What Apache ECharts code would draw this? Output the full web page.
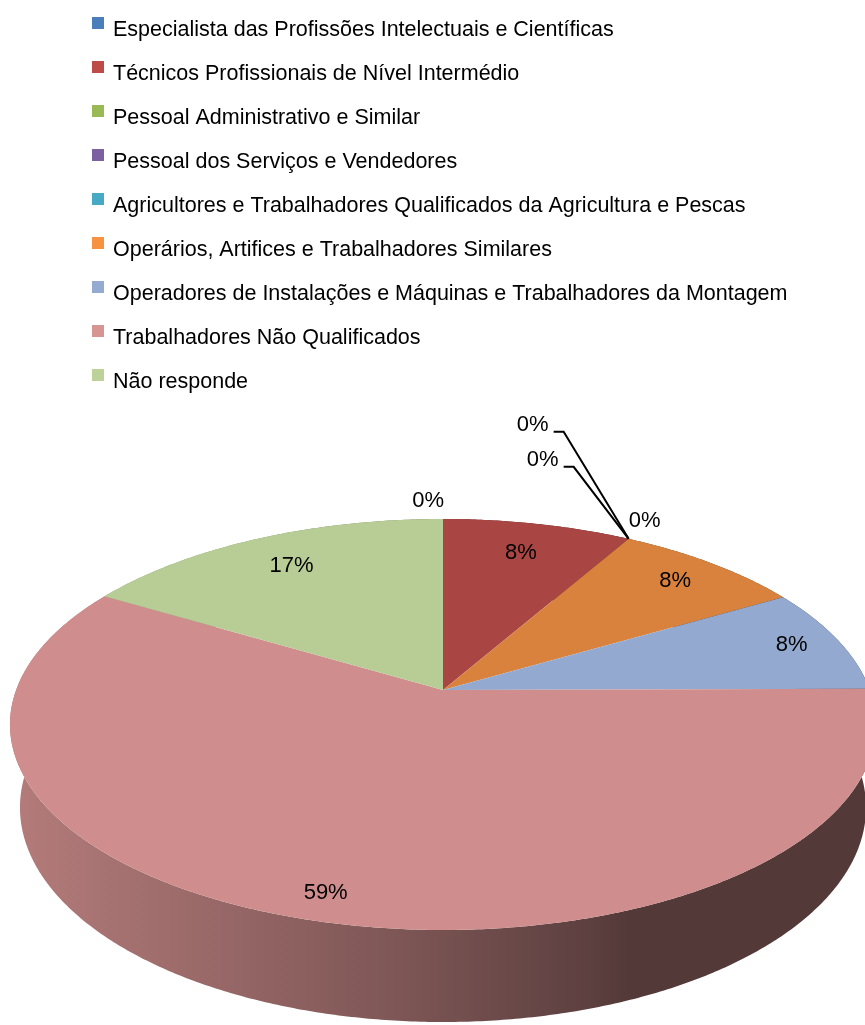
<!DOCTYPE html>
<html><head><meta charset="utf-8">
<script src="https://cdn.jsdelivr.net/npm/echarts@6/dist/echarts.min.js"></script>
<style>html,body{margin:0;padding:0;background:#fff}#c{width:865px;height:1025px}</style>
</head><body><div id="c"></div>
<script>
// ---- data ----
const categories = [
  'Especialista das Profissões Intelectuais e Científicas',
  'Técnicos Profissionais de Nível Intermédio',
  'Pessoal Administrativo e Similar',
  'Pessoal dos Serviços e Vendedores',
  'Agricultores e Trabalhadores Qualificados da Agricultura e Pescas',
  'Operários, Artifices e Trabalhadores Similares',
  'Operadores de Instalações e Máquinas e Trabalhadores da Montagem',
  'Trabalhadores Não Qualificados',
  'Não responde'
];
const values = [0, 8.3, 0, 0, 0, 8.3, 8.3, 58.6, 16.5];

// ---- styles ----
const legendColors = ['#4A7EBB','#BE4B48','#98B954','#7D60A0','#46AAC5','#F69240','#94AAD0','#D69593','#BCD298'];
const faceColors   = ['#4F81BD','#A94543','#9BBB59','#8064A2','#4BACC6','#D9823E','#93A9CF','#CF8E8D','#B8CD95'];
const labelRadius  = [1, 0.8, 1, 1, 1, 0.85, 0.88, 0.9, 0.8];
const FONT = 'Liberation Sans, Arial, sans-serif';

// ---- perspective geometry of the 3D pie ----
const G = {cx:443, cy:690, A:426.9, B:199.7, k:0.1679, delta:0.023, C:84.2};
function proj(phiDeg, f, bottom){
  const p = phiDeg*Math.PI/180;
  const u = f*Math.sin(p), v = -f*Math.cos(p);
  const d = 1 - G.k*v + (bottom ? G.delta : 0);
  return [G.cx + G.A*u/d, G.cy + (G.B*v + (bottom ? G.C : 0))/d];
}
function arc(a0, a1, bottom){
  const n = Math.max(2, Math.ceil((a1-a0)/0.5));
  const pts = [];
  for (let s=0; s<=n; s++) pts.push(proj(a0 + (a1-a0)*s/n, 1, bottom));
  return pts;
}
function shade(hex, m){
  const n = parseInt(hex.slice(1),16);
  const r=Math.round(((n>>16)&255)*m), g=Math.round(((n>>8)&255)*m), b=Math.round((n&255)*m);
  return 'rgb('+r+','+g+','+b+')';
}

const total = values.reduce((a,b)=>a+b,0);
const starts=[], ends=[]; let acc=0;
values.forEach(v=>{ starts.push(acc/total*360); acc+=v; ends.push(acc/total*360); });

// zero-value label stacking index within clusters at the same angle
const zeroRank = values.map((v,i)=>{
  if (v>0) return -1;
  let r=0; for (let j=0;j<i;j++) if (values[j]===0 && Math.abs(starts[j]-starts[i])<1e-6) r++;
  return r;
});

const sliceSeries = categories.map((name,i)=>({
  type:'custom', name, coordinateSystem:'none', z:2, silent:true,
  itemStyle:{color: legendColors[i]},
  data:[[values[i]]],
  renderItem:()=>{
    if (values[i] <= 0) return {type:'group', children:[]};
    const pts = [proj(0,0,false)].concat(arc(starts[i], ends[i], false));
    return {type:'polygon', shape:{points:pts}, style:{fill:faceColors[i]}};
  }
}));

const sideSeries = {
  type:'custom', name:'_sides', coordinateSystem:'none', z:1, silent:true,
  data: values.map(v=>[v]),
  renderItem:(params)=>{
    const i = params.dataIndex;
    if (values[i] <= 0) return {type:'group', children:[]};
    const top = arc(starts[i], ends[i], false);
    const bot = arc(starts[i], ends[i], true).reverse();
    const c = faceColors[i];
    return {type:'polygon', shape:{points: top.concat(bot)}, style:{
      fill:{type:'linear', global:true, x:10, y:0, x2:630, y2:0, colorStops:[
        {offset:0, color:shade(c,0.87)}, {offset:0.6, color:shade(c,0.62)},
        {offset:0.92, color:shade(c,0.46)}, {offset:1, color:shade(c,0.40)}]}
    }};
  }
};

const labelSeries = {
  type:'custom', name:'_labels', coordinateSystem:'none', z:3, silent:true,
  data: values.map(v=>[v]),
  renderItem:(params)=>{
    const i = params.dataIndex;
    const txt = Math.round(values[i]/total*100) + '%';
    const ts = {text:txt, fill:'#000', font:'22px '+FONT};
    if (values[i] > 0){
      const mid = (starts[i]+ends[i])/2;
      const p = proj(mid, labelRadius[i], false);
      return {type:'text', x:p[0], y:p[1], style:Object.assign(ts,{align:'center', verticalAlign:'middle'})};
    }
    const a = proj(starts[i], 1, false);
    const r = zeroRank[i];
    if (r === 0){
      const right = Math.sin(starts[i]*Math.PI/180) > 0.01;
      return {type:'text', x: right ? a[0] : a[0]+1, y:a[1]-18,
        style:Object.assign(ts,{align: right ? 'left' : 'right', verticalAlign:'middle'})};
    }
    const cx = a[0] - 76 - 10*r, cy = a[1] - 44 - 35*r;
    const tr = cx + 16;
    return {type:'group', children:[
      {type:'polyline', shape:{points:[[tr+5, cy+7],[tr+15, cy+7],[a[0], a[1]]]}, style:{stroke:'#000', lineWidth:2, fill:null}},
      {type:'text', x:cx, y:cy, style:Object.assign(ts,{align:'center', verticalAlign:'middle'})}
    ]};
  }
};

const chart = echarts.init(document.getElementById('c'), null, {renderer:'canvas'});
chart.setOption({
  animation:false,
  backgroundColor:'#fff',
  legend:{
    orient:'vertical', left:92, top:5, padding:0,
    itemWidth:12, itemHeight:12, itemGap:8, icon:'rect',
    selectedMode:false, data:categories,
    formatter: name => '{t|' + name + '}',
    textStyle:{fontFamily:FONT, fontSize:21.5, color:'#000',
      rich:{t:{fontFamily:FONT, fontSize:21.5, color:'#000', lineHeight:24, padding:[14,0,0,4]}}}
  },
  series:[sideSeries].concat(sliceSeries).concat([labelSeries])
});
</script></body></html>
